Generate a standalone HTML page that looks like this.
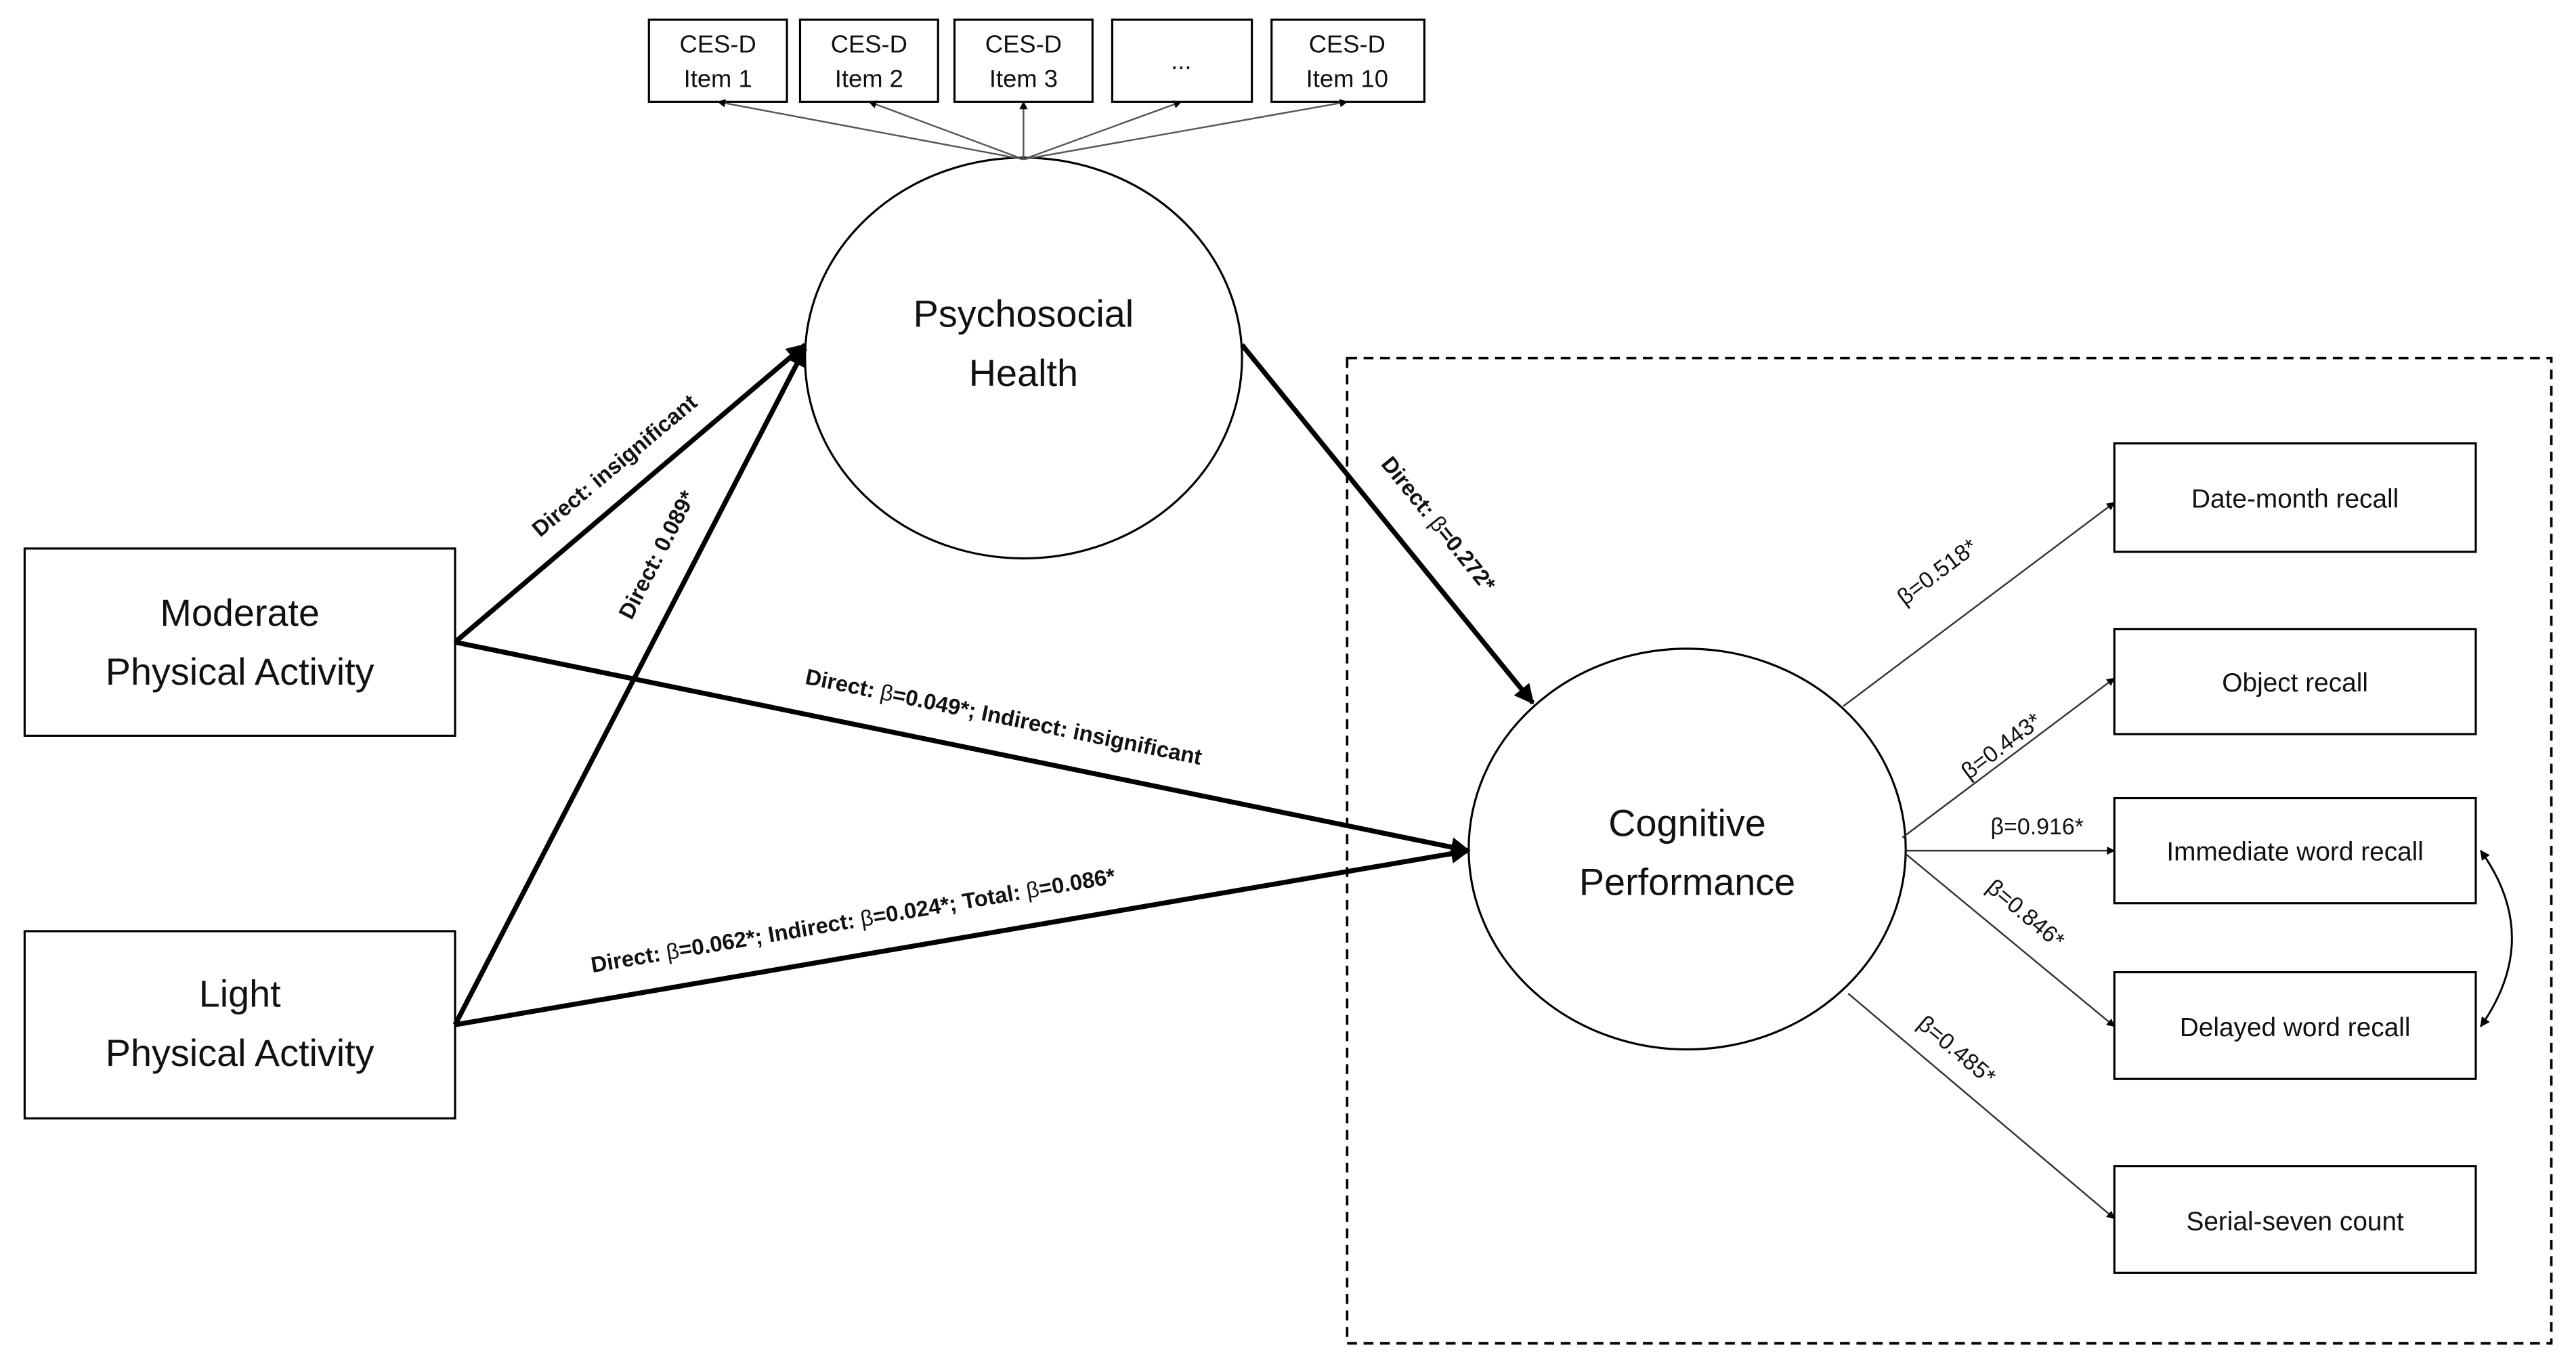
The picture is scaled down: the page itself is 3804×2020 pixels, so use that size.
<!DOCTYPE html>
<html><head><meta charset="utf-8"><style>
html,body{margin:0;padding:0;background:#fff;}
svg{display:block;}
text{font-family:"Liberation Sans",sans-serif;fill:#111;}
</style></head><body>
<svg width="3804" height="2020" viewBox="0 0 1568 833" preserveAspectRatio="none" xmlns="http://www.w3.org/2000/svg">
<defs>
<marker id="a" viewBox="0 0 10 10" refX="9" refY="5" markerWidth="4" markerHeight="4" orient="auto-start-reverse"><path d="M0,0 L10,5 L0,10 z" fill="#000"/></marker>
<marker id="b" viewBox="0 0 10 10" refX="9" refY="5" markerWidth="5" markerHeight="5" orient="auto-start-reverse"><path d="M0,0 L10,5 L0,10 z" fill="#000"/></marker>
</defs>
<g fill="#fff" stroke="#000" stroke-width="1.3">
<rect x="395" y="12" width="84" height="50"/><rect x="487" y="12" width="84" height="50"/><rect x="581" y="12" width="84" height="50"/><rect x="677" y="12" width="85" height="50"/><rect x="774" y="12" width="93" height="50"/>
<ellipse cx="623" cy="218" rx="133" ry="122"/>
<ellipse cx="1027" cy="517" rx="133" ry="122"/>
<rect x="15" y="334" width="262" height="114"/><rect x="15" y="567" width="262" height="114"/>
<rect x="1287" y="270" width="220" height="66"/><rect x="1287" y="383" width="220" height="64"/><rect x="1287" y="486" width="220" height="64"/><rect x="1287" y="592" width="220" height="65"/><rect x="1287" y="710" width="220" height="65"/>
</g>
<rect x="820" y="218" width="733" height="600" fill="none" stroke="#000" stroke-width="1.5" stroke-dasharray="6,4"/>
<g stroke="#555" stroke-width="1" marker-end="url(#b)">
<line x1="623" y1="97" x2="437" y2="62"/><line x1="623" y1="97" x2="529" y2="62"/><line x1="623" y1="97" x2="623" y2="62"/><line x1="623" y1="97" x2="719" y2="62"/><line x1="623" y1="97" x2="820" y2="62"/>
</g>
<g stroke="#000" stroke-width="3" marker-end="url(#a)">
<line x1="277" y1="391" x2="490" y2="210"/>
<line x1="277" y1="624" x2="490" y2="212"/>
<line x1="277" y1="391" x2="894" y2="518"/>
<line x1="277" y1="624" x2="894" y2="518"/>
<line x1="756" y1="210" x2="933" y2="428"/>
</g>
<g stroke="#333" stroke-width="1" marker-end="url(#b)">
<line x1="1122" y1="430" x2="1287" y2="306"/>
<line x1="1158" y1="510" x2="1287" y2="413"/>
<line x1="1160" y1="518" x2="1287" y2="518"/>
<line x1="1160" y1="520" x2="1287" y2="625"/>
<line x1="1125" y1="605" x2="1287" y2="742"/>
</g>
<path d="M1510,518 Q1548,571 1510,625" fill="none" stroke="#000" stroke-width="1.2" marker-start="url(#b)" marker-end="url(#b)"/>
<g font-size="15" text-anchor="middle">
<text x="437" y="32">CES-D</text><text x="437" y="53">Item 1</text>
<text x="529" y="32">CES-D</text><text x="529" y="53">Item 2</text>
<text x="623" y="32">CES-D</text><text x="623" y="53">Item 3</text>
<text x="719" y="42">...</text>
<text x="820" y="32">CES-D</text><text x="820" y="53">Item 10</text>
</g>
<g font-size="23" text-anchor="middle">
<text x="623" y="199">Psychosocial</text><text x="623" y="235">Health</text>
<text x="1027" y="509">Cognitive</text><text x="1027" y="545">Performance</text>
<text x="146" y="381">Moderate</text><text x="146" y="417">Physical Activity</text>
<text x="146" y="613">Light</text><text x="146" y="649">Physical Activity</text>
</g>
<g font-size="16" text-anchor="middle">
<text x="1397" y="309">Date-month recall</text><text x="1397" y="421">Object recall</text><text x="1397" y="524">Immediate word recall</text><text x="1397" y="631">Delayed word recall</text><text x="1397" y="749">Serial-seven count</text>
</g>
<g font-size="13.5" font-weight="bold" text-anchor="middle" style="font-family:'Liberation Sans Narrow','Liberation Sans',sans-serif">
<text transform="translate(377,287) rotate(-40)">Direct: insignificant</text>
<text transform="translate(404,340) rotate(-62.7)">Direct: 0.089*</text>
<text transform="translate(610,441) rotate(11.6)">Direct: <tspan font-weight="normal">β</tspan>=0.049*; Indirect: insignificant</text>
<text transform="translate(520,565) rotate(-9.7)">Direct: <tspan font-weight="normal">β</tspan>=0.062*; Indirect: <tspan font-weight="normal">β</tspan>=0.024*; Total: <tspan font-weight="normal">β</tspan>=0.086*</text>
<text transform="translate(872,322) rotate(51)">Direct: <tspan font-weight="normal">β</tspan>=0.272*</text>
</g>
<g font-size="14" text-anchor="middle">
<text transform="translate(1182,352) rotate(-37)">β=0.518*</text>
<text transform="translate(1221,458) rotate(-37)">β=0.443*</text>
<text transform="translate(1240,508)">β=0.916*</text>
<text transform="translate(1230,560) rotate(40)">β=0.846*</text>
<text transform="translate(1188,643) rotate(40)">β=0.485*</text>
</g>
</svg>
</body></html>
